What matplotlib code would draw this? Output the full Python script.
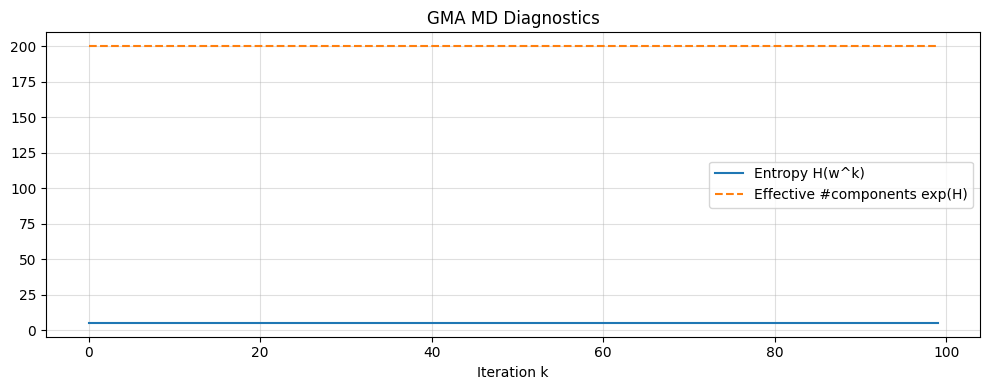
import numpy as np
import matplotlib
matplotlib.use("Agg")
import matplotlib.pyplot as plt

# ====== Data (both series are flat) ======
iterations = list(range(100))
entropy = [5.298] * 100          # H(w^k) ~ ln(200)
effective_components = [200.0] * 100  # exp(H)

# ====== Plot ======
fig, ax = plt.subplots(figsize=(10, 4), dpi=100)

ax.plot(iterations, entropy, label="Entropy H(w^k)")
ax.plot(iterations, effective_components, "--", label="Effective #components exp(H)")

ax.set_title("GMA MD Diagnostics")
ax.set_xlabel("Iteration k")
ax.grid(True, alpha=0.4)
ax.legend(loc="center right")

fig.tight_layout()
fig.savefig("out.png", dpi=100, bbox_inches="tight")
plt.close(fig)
